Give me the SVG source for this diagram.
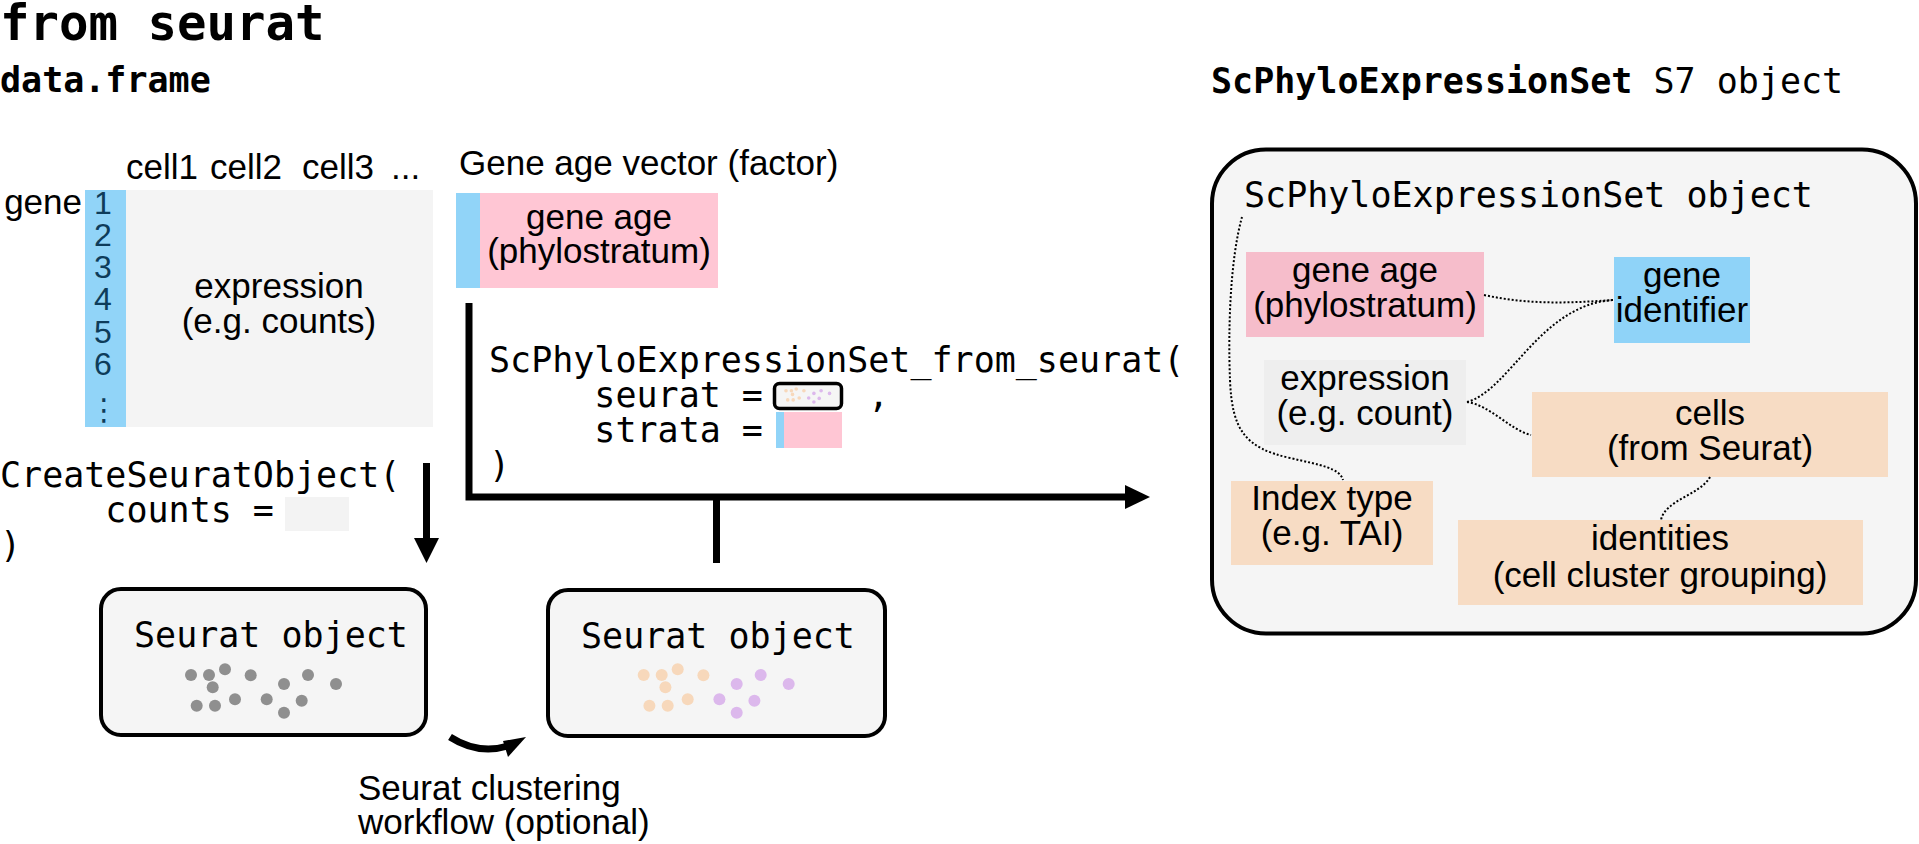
<svg xmlns="http://www.w3.org/2000/svg" width="1919" height="844" viewBox="0 0 1919 844">
<style>
.mono{font-family:"DejaVu Sans Mono","Liberation Mono",monospace;font-size:35px;fill:#000}
.monob{font-family:"DejaVu Sans Mono","Liberation Mono",monospace;font-weight:bold;fill:#000}
.sans{font-family:"Liberation Sans",Arial,sans-serif;font-size:35px;fill:#000}
.mid{text-anchor:middle}
.conn{stroke:#000;stroke-width:7;fill:none}
.dot{fill:none;stroke:#000;stroke-width:2;stroke-dasharray:2 2}
.frame{fill:#f5f5f5;stroke:#000;stroke-width:4}
</style>
<defs>
<g id="dotsL">
<circle cx="191" cy="675" r="6"/><circle cx="209" cy="675" r="6"/><circle cx="225" cy="669.3" r="6"/><circle cx="250.7" cy="675.3" r="6"/><circle cx="212.7" cy="687.3" r="6"/><circle cx="196.7" cy="705.7" r="6"/><circle cx="215" cy="705.7" r="6"/><circle cx="235" cy="699.3" r="6"/>
</g>
<g id="dotsR">
<circle cx="284" cy="684" r="6"/><circle cx="308" cy="675" r="6"/><circle cx="336" cy="684" r="6"/><circle cx="266.7" cy="699.3" r="6"/><circle cx="301.7" cy="700.7" r="6"/><circle cx="284" cy="712.7" r="6"/>
</g>
</defs>
<rect width="1919" height="844" fill="#fff"/>

<g id="titles">
<text class="monob" x="0" y="40" font-size="49">from seurat</text>
<text class="monob" x="0" y="92" font-size="35">data.frame</text>
<text class="mono" x="1211" y="93"><tspan font-weight="bold">ScPhyloExpressionSet</tspan> S7 object</text>
</g>

<g id="dataframe">
<rect x="126" y="190" width="307" height="237" fill="#f4f4f4"/>
<rect x="85" y="190" width="41" height="237" fill="#91d4f8"/>
<text class="sans" x="126" y="179">cell1</text>
<text class="sans" x="210" y="179">cell2</text>
<text class="sans" x="302" y="179">cell3</text>
<text class="sans" x="391" y="179">...</text>
<text class="sans" x="82" y="214" text-anchor="end">gene</text>
<g class="sans mid" style="fill:#0e3c5a;font-size:32px">
<text x="103" y="214">1</text><text x="103" y="246">2</text><text x="103" y="278">3</text><text x="103" y="310">4</text><text x="103" y="343">5</text><text x="103" y="375">6</text>
<text x="104" y="420" style="font-family:'DejaVu Sans',sans-serif;font-size:30px">⋮</text>
</g>
<text class="sans mid" x="279" y="298">expression</text>
<text class="sans mid" x="279" y="333">(e.g. counts)</text>
</g>

<g id="geneage">
<text class="sans" x="459" y="175">Gene age vector (factor)</text>
<rect x="456" y="193" width="24" height="95" fill="#91d4f8"/>
<rect x="480" y="193" width="238" height="95" fill="#ffc6d4"/>
<text class="sans mid" x="599" y="229">gene age</text>
<text class="sans mid" x="599" y="263">(phylostratum)</text>
</g>

<g id="code-from-seurat">
<text class="mono" x="489" y="372" xml:space="preserve">ScPhyloExpressionSet_from_seurat(</text>
<text class="mono" x="489" y="407" xml:space="preserve">     seurat =</text>
<text class="mono" x="868" y="407">,</text>
<text class="mono" x="489" y="442" xml:space="preserve">     strata =</text>
<text class="mono" x="489" y="477">)</text>
<rect x="774.5" y="383.5" width="67" height="25" rx="5" fill="#f5f5f5" stroke="#000" stroke-width="3.5"/>
<g transform="translate(728.7,188.2) scale(0.3)">
<use href="#dotsL" fill="#f7d8bb"/><use href="#dotsR" fill="#dcb8ec"/>
</g>
<rect x="776" y="412" width="8" height="36" fill="#91d4f8"/>
<rect x="784" y="412" width="58" height="36" fill="#ffc6d4"/>
</g>

<g id="code-create">
<text class="mono" x="0" y="487">CreateSeuratObject(</text>
<text class="mono" x="0" y="522" xml:space="preserve">     counts =</text>
<rect x="285" y="497" width="64" height="34" fill="#f3f3f3"/>
<text class="mono" x="0" y="557">)</text>
</g>

<g id="seurat1">
<rect class="frame" x="101" y="589" width="325" height="146" rx="20"/>
<text class="mono" x="134" y="647">Seurat object</text>
<g fill="#8f8f8f"><use href="#dotsL"/><use href="#dotsR"/></g>
</g>

<g id="seurat2">
<rect class="frame" x="548" y="590" width="337" height="146" rx="20"/>
<text class="mono" x="581" y="648">Seurat object</text>
<g transform="translate(452.7,0)"><use href="#dotsL" fill="#f7d8bb"/><use href="#dotsR" fill="#dcb8ec"/></g>
</g>

<g id="workflow-label">
<text class="sans" x="358" y="800">Seurat clustering</text>
<text class="sans" x="358" y="834">workflow (optional)</text>
</g>

<g id="scphylo">
<rect class="frame" x="1212" y="149.5" width="704" height="484" rx="54"/>
<text class="mono" x="1244" y="207">ScPhyloExpressionSet object</text>
<rect x="1246" y="252" width="238" height="85" fill="#f6bdcb"/>
<text class="sans mid" x="1365" y="282">gene age</text>
<text class="sans mid" x="1365" y="317">(phylostratum)</text>
<rect x="1614" y="257" width="136" height="86" fill="#8fd3f8"/>
<text class="sans mid" x="1682" y="287">gene</text>
<text class="sans mid" x="1682" y="322">identifier</text>
<rect x="1264" y="360" width="202" height="85" fill="#eeeeee"/>
<text class="sans mid" x="1365" y="390">expression</text>
<text class="sans mid" x="1365" y="425">(e.g. count)</text>
<rect x="1532" y="392" width="356" height="85" fill="#f7dcc4"/>
<text class="sans mid" x="1710" y="425">cells</text>
<text class="sans mid" x="1710" y="460">(from Seurat)</text>
<rect x="1231" y="481" width="202" height="84" fill="#f7dcc4"/>
<text class="sans mid" x="1332" y="510">Index type</text>
<text class="sans mid" x="1332" y="545">(e.g. TAI)</text>
<rect x="1458" y="520" width="405" height="85" fill="#f7dcc4"/>
<text class="sans mid" x="1660" y="550">identities</text>
<text class="sans mid" x="1660" y="587">(cell cluster grouping)</text>
</g>

<g id="connectors">
<line class="conn" x1="426.5" y1="463" x2="426.5" y2="540"/>
<polygon points="414,538 439,538 426.5,563" fill="#000"/>
<path class="conn" d="M469,303 V497 H1127"/>
<polygon points="1125,485 1150,497 1125,509" fill="#000"/>
<line class="conn" x1="716.5" y1="497" x2="716.5" y2="563"/>
<path class="conn" d="M450,737 Q478,755 508,746"/>
<polygon points="503,741 526,737 508,757" fill="#000"/>
<path class="dot" d="M1484,295 C1530,305 1570,303 1613,300"/>
<path class="dot" d="M1467,402 C1510,390 1540,305 1613,300"/>
<path class="dot" d="M1467,402 C1490,405 1510,430 1531,435"/>
<path class="dot" d="M1242,217 C1230,260 1228,330 1230,380 C1232,430 1245,448 1290,458 C1320,465 1340,468 1343,480"/>
<path class="dot" d="M1710,477 C1700,495 1665,500 1661,520"/>
</g>
</svg>
